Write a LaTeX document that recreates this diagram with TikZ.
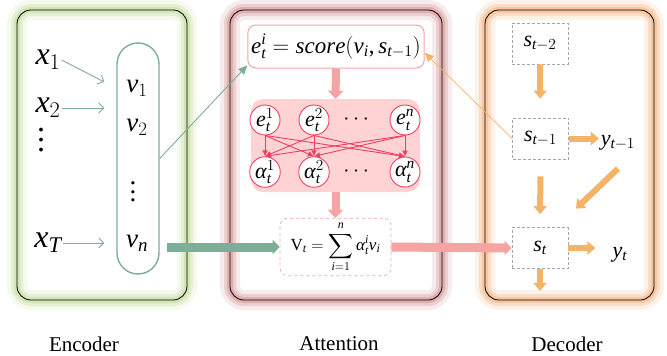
\documentclass[tikz,border=0pt]{standalone}
\usepackage{fix-cm}
\usepackage{amsmath}
\usepackage{fontspec}
\setmainfont{Liberation Serif}[NFSSFamily=libserif]
\DeclareSymbolFont{letters}{TU}{libserif}{m}{it}
\DeclareSymbolFont{operators}{TU}{libserif}{m}{n}
\Umathcode`,="6 \symoperators "002C
\Umathchardef\talpha="0 \symletters "03B1
\usetikzlibrary{positioning,arrows.meta}

\definecolor{encglow}{HTML}{C9DFA6}
\definecolor{attglow}{HTML}{D89A9A}
\definecolor{decglow}{HTML}{F7B888}
\definecolor{encline}{HTML}{7FAE98}
\definecolor{attline}{HTML}{F6A3A3}
\definecolor{attred}{HTML}{EE3F62}
\definecolor{attfill}{HTML}{FFD3D3}
\definecolor{decline}{HTML}{F4B467}

\newcommand{\dotcol}[1]{\vbox{\baselineskip=#1\lineskiplimit=0pt \hbox{.}\hbox{.}\hbox{.}}}

\tikzset{
  panel/.style={draw, line width=0.8pt, rounded corners=14pt, minimum width=#1, minimum height=290pt, inner sep=0pt},
  glow/.style={preaction={draw=#1, line width=20pt, opacity=0.18},
               preaction={draw=#1, line width=12pt, opacity=0.35},
               preaction={draw=#1, line width=6pt, opacity=0.6}},
  lbl/.style={font=\fontsize{21}{24}\selectfont},
  xin/.style={font=\fontsize{32}{34}\selectfont, inner sep=1pt},
  vout/.style={font=\fontsize{27}{30}\selectfont, inner sep=1pt},
  pill/.style={draw=encline, line width=1.4pt, rounded corners=21pt, minimum width=42pt, minimum height=231pt},
  encarrow/.style={draw=encline, line width=0.9pt, -{Straight Barb[length=5pt,width=10pt]}},
  enclink/.style={draw=encline, line width=0.9pt, -{Triangle[length=9pt,width=8pt]}},
  encblock/.style={draw=encline, line width=9pt, -{Triangle[length=7pt,width=14pt]}},
  scorebox/.style={draw=attline, fill=white, line width=1pt, rounded corners=8pt, minimum width=170pt, minimum height=43pt, font=\fontsize{23}{25}\selectfont},
  softbox/.style={fill=attfill, rounded corners=12pt, minimum width=169pt, minimum height=93pt},
  weight/.style={circle, draw=attred, fill=white, line width=0.9pt, minimum size=30pt, inner sep=0pt, font=\fontsize{22}{24}\selectfont},
  wdots/.style={inner sep=0pt, font=\fontsize{22}{24}\selectfont},
  attarrow/.style={draw=attred, line width=0.9pt, -{Latex[length=6pt,width=6pt]}},
  ctxbox/.style={draw=attline, dashed, fill=white, line width=0.6pt, rounded corners=8pt, minimum width=111pt, minimum height=48pt, font=\fontsize{17}{20}\selectfont},
  attblock/.style={draw=attline, line width=8pt, -{Triangle[length=8pt,width=15pt]}},
  state/.style={draw=gray!70, dash pattern=on 3pt off 2pt, line width=0.8pt, minimum width=56pt, minimum height=41pt, font=\fontsize{22}{24}\selectfont},
  yout/.style={inner sep=1pt, font=\fontsize{22}{24}\selectfont},
  decblock/.style={draw=decline, line width=6pt, -{Triangle[length=8pt,width=13pt]}},
  declink/.style={draw=decline, line width=0.7pt, -{Triangle[length=9pt,width=8pt]}}
}

\begin{document}
\begin{tikzpicture}[x=1pt, y=-1pt]
\useasboundingbox[fill=white] (0,0) rectangle (667,356);

% three panels
\node[panel=170pt, glow=encglow] (encbox) at (102,155) {};
\node[panel=212pt, glow=attglow] (attbox) at (336,155) {};
\node[panel=169pt, glow=decglow] (decbox) at (569.5,155) {};
\node[lbl] (enclbl) at (84,344) {Encoder};
\node[lbl] (attlbl) at (339,344) {Attention};
\node[lbl] (declbl) at (567,344) {Decoder};

% encoder
\node[pill] (pill) at (138,158.5) {};
\node[xin] (x1) at (48,60) {$x_1$};
\node[xin] (x2) at (48,108) {$x_2$};
\node[xin] (xdots) at (41,140) {\dotcol{10pt}};
\node[xin] (xT) at (48,243) {$x_T$};
\node[vout] (v1) at (137,88) {$v_1$};
\node[vout] (v2) at (137,127) {$v_2$};
\node[vout] (vdots) at (133,192) {\dotcol{8.5pt}};
\node[vout] (vn) at (137,243) {$v_n$};
\draw[encarrow] (x1.east) -- ([shift={(-12,-6)}]pill.west |- v1);
\draw[encarrow] (x2.east) -- ([xshift=-12pt]pill.west |- x2);
\draw[encarrow] (xT.east) -- ([xshift=-12pt]pill.west |- xT);

% attention
\node[scorebox] (score) at (336,46.5) {$e_t^i = score(v_i, s_{t-1})$};
\node[softbox] (soft) at (335.5,145.5) {};
\node[weight] (e1) at (265,120) {$e_t^1$};
\node[weight] (e2) at (314,120) {$e_t^2$};
\node[wdots] (edots) at (358,120) {$\cdots$};
\node[weight] (en) at (405,120) {$e_t^n$};
\node[weight] (a1) at (265,172) {$\talpha_t^1$};
\node[weight] (a2) at (314,172) {$\talpha_t^2$};
\node[wdots] (adots) at (358,172) {$\cdots$};
\node[weight] (an) at (405,172) {$\talpha_t^n$};
\foreach \src in {e1,e2,en}
  \foreach \dst in {a1,a2,an}
    \draw[attarrow] (\src.south) -- (\dst.north);
\node[ctxbox] (ctx) at (335.5,247) {$\displaystyle \mathrm{V}_t = \sum_{i=1}^{n} \talpha_t^i v_i$};
\draw[attblock] (score.south) -- (soft.north);
\draw[attblock] (soft.south) -- (ctx.north);
\draw[enclink] (pill.east) -- (score.192);
\draw[encblock] ([xshift=7pt]pill.east |- ctx) -- (ctx.west);

% decoder
\node[state] (s2) at (540,43.5) {$s_{t-2}$};
\node[state] (s1) at (540.5,138.5) {$s_{t-1}$};
\node[state] (s0) at (540,248) {$s_t$};
\node[yout] (y1) at (618,143) {$y_{t-1}$};
\node[yout] (y0) at (620,255) {$y_t$};
\draw[attblock, line width=9pt, -{Triangle[length=7pt,width=14pt]}] (ctx.east) -- (s0.west);
\draw[decblock, shorten >=19pt] (s2) -- (s1);
\draw[decblock] (s1.east) -- ([xshift=30pt]s1.east);
\draw[decblock, shorten <=17pt, shorten >=13pt] (s1) -- (s0);
\draw[decblock] ([shift={(0,17)}]y1.south) -- ++(-42,40);
\draw[decblock] (s0.east) -- ([xshift=27pt]s0.east);
\draw[decblock] (s0.south) -- ++(0,22);
\draw[declink] (s1.west) -- (score.356);
\end{tikzpicture}
\end{document}
